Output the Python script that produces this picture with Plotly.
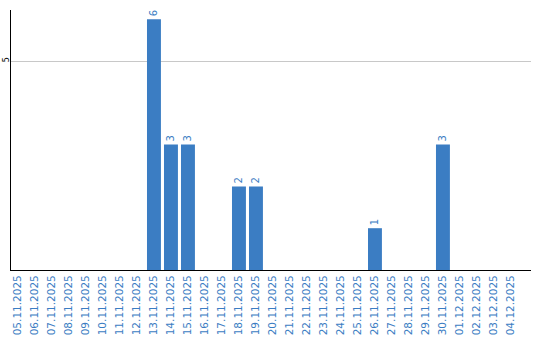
import plotly.graph_objects as go

dates = [
    "05.11.2025", "06.11.2025", "07.11.2025", "08.11.2025", "09.11.2025",
    "10.11.2025", "11.11.2025", "12.11.2025", "13.11.2025", "14.11.2025",
    "15.11.2025", "16.11.2025", "17.11.2025", "18.11.2025", "19.11.2025",
    "20.11.2025", "21.11.2025", "22.11.2025", "23.11.2025", "24.11.2025",
    "25.11.2025", "26.11.2025", "27.11.2025", "28.11.2025", "29.11.2025",
    "30.11.2025", "01.12.2025", "02.12.2025", "03.12.2025", "04.12.2025",
]
counts = [0, 0, 0, 0, 0, 0, 0, 0, 6, 3,
          3, 0, 0, 2, 2, 0, 0, 0, 0, 0,
          0, 1, 0, 0, 0, 3, 0, 0, 0, 0]
y_ticks = [5]

labels = [str(v) if v else "" for v in counts]
blue = "#3b7dc3"

fig = go.Figure(go.Bar(
    x=dates, y=counts, text=labels, textposition="outside", textangle=-90,
    textfont=dict(color=blue, size=10, family="DejaVu Sans"),
    marker=dict(color=blue, line=dict(width=0)), cliponaxis=False,
))

fig.update_layout(
    width=540, height=340,
    margin=dict(l=11, r=9, t=10, b=70),
    plot_bgcolor="white", paper_bgcolor="white",
    bargap=0.18, showlegend=False,
    font=dict(family="DejaVu Sans"),
)
fig.update_xaxes(
    type="category", range=[-0.41, 30.18], tickangle=-90, automargin=False,
    tickfont=dict(color=blue, size=10.5, family="DejaVu Sans"),
    showline=True, linecolor="black", linewidth=1, ticks="", showgrid=False,
)
fig.update_yaxes(
    range=[0, 6.22], tickvals=y_ticks, tickangle=-90, automargin=False,
    ticklabelstandoff=-2,
    tickfont=dict(color="black", size=8, family="DejaVu Sans"),
    showline=True, linecolor="black", linewidth=1, ticks="",
    showgrid=True, gridcolor="#c8c8c8", gridwidth=1, zeroline=False,
)

fig.write_html("out.html")
